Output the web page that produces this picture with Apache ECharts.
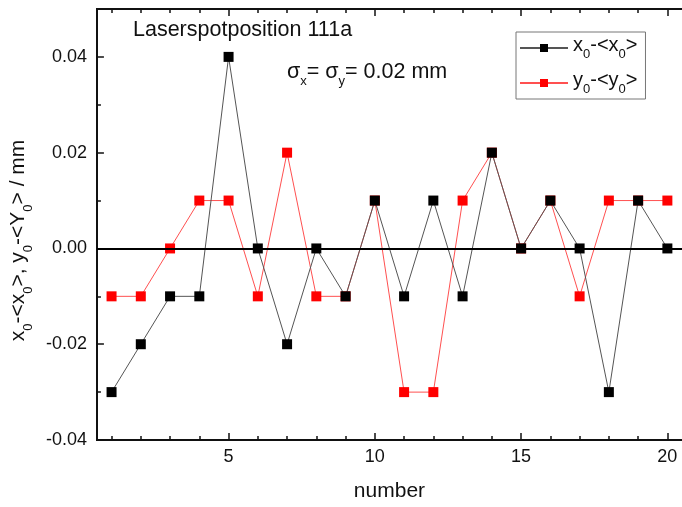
<!DOCTYPE html>
<html>
<head>
<meta charset="utf-8">
<script src="https://cdn.jsdelivr.net/npm/echarts@6/dist/echarts.min.js"></script>
<style>
  html, body { margin: 0; padding: 0; background: #fff; }
  #chart { width: 682px; height: 507px; }
</style>
</head>
<body>
<div id="chart"></div>
<script>
// Measurement index 1..20
const numbers = [1, 2, 3, 4, 5, 6, 7, 8, 9, 10, 11, 12, 13, 14, 15, 16, 17, 18, 19, 20];
// Deviation of x0 from its mean (mm)
const xDev = [-0.03, -0.02, -0.01, -0.01, 0.04, 0.00, -0.02, 0.00, -0.01, 0.01,
              -0.01, 0.01, -0.01, 0.02, 0.00, 0.01, 0.00, -0.03, 0.01, 0.00];
// Deviation of y0 from its mean (mm)
const yDev = [-0.01, -0.01, 0.00, 0.01, 0.01, -0.01, 0.02, -0.01, -0.01, 0.01,
              -0.03, -0.03, 0.01, 0.02, 0.00, 0.01, -0.01, 0.01, 0.01, 0.01];
// Tick positions
const xMajorTicks = [5, 10, 15, 20];
const xMinorTicks = [1, 2, 3, 4, 6, 7, 8, 9, 11, 12, 13, 14, 16, 17, 18, 19];
const yMajorTicks = [-0.04, -0.02, 0.00, 0.02, 0.04];
const yMinorTicks = [-0.03, -0.01, 0.01, 0.03];

const FONT = '"Liberation Sans", Arial, sans-serif';
const AXIS_COLOR = '#111';

// Rich-text styles: normal text raised by bottom padding, so the
// bottom-aligned subscript sits below its baseline
function richStyles(size, subSize, drop, colorKey) {
  const t = { fontSize: size, fontFamily: FONT, verticalAlign: 'bottom', padding: [0, 0, drop, 0] };
  const s = { fontSize: subSize, fontFamily: FONT, verticalAlign: 'bottom' };
  t[colorKey] = '#111';
  s[colorKey] = '#111';
  return { t: t, s: s };
}

function xAxisDef(position, ticks, len, labels) {
  return {
    type: 'value', position: position, min: 0.5, max: 20.5,
    axisLine: { show: true, onZero: false, lineStyle: { color: AXIS_COLOR, width: 2 } },
    axisTick: { show: true, inside: true, length: len, customValues: ticks,
                lineStyle: { color: AXIS_COLOR, width: 1.5 } },
    axisLabel: labels ? { show: true, customValues: ticks, margin: 8,
                          color: '#111', fontSize: 18, fontFamily: FONT }
                      : { show: false },
    splitLine: { show: false }
  };
}
function yAxisDef(ticks, len, labels) {
  return {
    type: 'value', position: 'left', min: -0.04, max: 0.05,
    axisLine: { show: true, onZero: false, lineStyle: { color: AXIS_COLOR, width: 2 } },
    axisTick: { show: true, inside: true, length: len, customValues: ticks,
                lineStyle: { color: AXIS_COLOR, width: 1.5 } },
    axisLabel: labels ? { show: true, customValues: ticks, margin: 10,
                          color: '#111', fontSize: 18, fontFamily: FONT,
                          formatter: v => v.toFixed(2) }
                      : { show: false },
    splitLine: { show: false }
  };
}

const xMain = xAxisDef('bottom', xMajorTicks, 7, true);
xMain.name = 'number';
xMain.nameLocation = 'middle';
xMain.nameGap = 41;
xMain.nameTextStyle = { color: '#111', fontSize: 21, fontFamily: FONT };

const yMain = yAxisDef(yMajorTicks, 7, true);
yMain.name = '{t|x}{s|0}{t|-<x}{s|0}{t|>, y}{s|0}{t|-<Y}{s|0}{t|> / mm}';
yMain.nameLocation = 'middle';
yMain.nameGap = 49;
yMain.nameRotate = 90;
yMain.nameTextStyle = {
  padding: [0, 32, 0, 0],
  rich: richStyles(21, 13, 6, 'color')
};

const chart = echarts.init(document.getElementById('chart'), null, { renderer: 'canvas' });
chart.setOption({
  backgroundColor: '#fff',
  animation: false,
  grid: { left: 95, top: 9, width: 590, height: 433, containLabel: false },
  xAxis: [
    xMain,
    xAxisDef('bottom', xMinorTicks, 4, false),
    xAxisDef('top', xMajorTicks, 7, false),
    xAxisDef('top', xMinorTicks, 4, false)
  ],
  yAxis: [
    yMain,
    yAxisDef(yMinorTicks, 4, false)
  ],
  legend: {
    orient: 'vertical',
    left: 516, top: 32,
    padding: [3, 8, 3, 3],
    itemGap: 9,
    itemWidth: 48, itemHeight: 10,
    borderColor: '#777', borderWidth: 1,
    data: ['x', 'y'],
    formatter: name => name === 'x'
      ? '{t|x}{s|0}{t|-<x}{s|0}{t|>}'
      : '{t|y}{s|0}{t|-<y}{s|0}{t|>}',
    textStyle: { rich: richStyles(20, 13, 6, 'color') }
  },
  graphic: [
    {
      type: 'text', left: 133, top: 19,
      style: { text: 'Laserspotposition 111a', fill: '#111', font: '21.5px ' + FONT }
    },
    {
      type: 'text', left: 287, top: 61,
      style: {
        text: '{t|σ}{s|x}{t|= σ}{s|y}{t|= 0.02 mm}',
        rich: richStyles(21.5, 13, 5, 'fill')
      }
    }
  ],
  series: [
    {
      name: 'x', type: 'line',
      data: numbers.map((n, i) => [n, xDev[i]]),
      symbol: 'rect', symbolSize: 10,
      itemStyle: { color: '#000' },
      lineStyle: { color: '#555', width: 1 },
      z: 3,
      markLine: {
        silent: true, symbol: 'none', label: { show: false },
        lineStyle: { color: '#000', width: 2, type: 'solid' },
        data: [{ yAxis: 0 }]
      }
    },
    {
      name: 'y', type: 'line',
      data: numbers.map((n, i) => [n, yDev[i]]),
      symbol: 'rect', symbolSize: 10,
      itemStyle: { color: '#ff0000' },
      lineStyle: { color: '#ff5050', width: 1 },
      z: 2
    }
  ]
});
</script>
</body>
</html>
